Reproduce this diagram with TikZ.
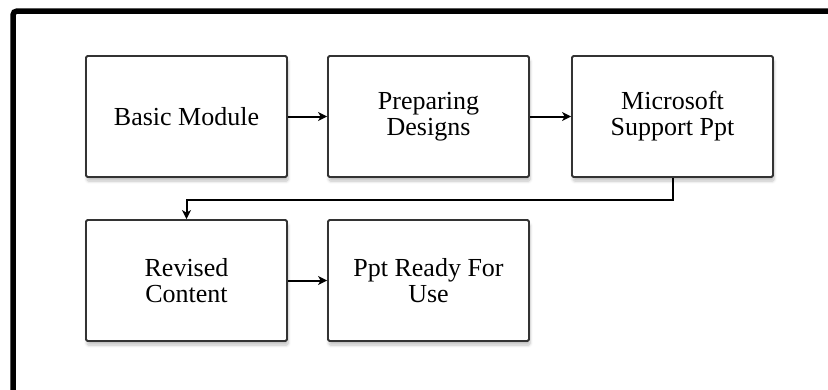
\documentclass[tikz,border=0pt]{standalone}
\usepackage{fontspec}
\setmainfont{Liberation Serif}
\usetikzlibrary{arrows.meta,shadows.blur}

\begin{document}
\begin{tikzpicture}[x=1pt,y=-1pt,
  stepbox/.style={draw=black!80,line width=1.8pt,rounded corners=1.5pt,fill=white,
    minimum width=201pt,minimum height=121pt,inner sep=0pt,align=center,
    font=\fontsize{26}{26}\selectfont,
    blur shadow={shadow xshift=1pt,shadow yshift=-4pt,shadow blur steps=6,shadow opacity=25,shadow blur radius=3pt}},
  flow/.style={line width=2pt,-{Stealth[length=9pt,width=9pt,inset=2.5pt]}}]
  \useasboundingbox (0,0) rectangle (828,389);
  % outer frame, only its top and left sides fall on the page
  \draw[line width=5.5pt,rounded corners=4pt] (13,400) |- (840,11);

  \node[stepbox] (bm) at (186.5,116.5) {Basic Module};
  \node[stepbox] (pd) at (428.5,116.5) {Preparing\\Designs};
  \node[stepbox] (ms) at (672.5,116.5) {Microsoft\\Support Ppt};
  \node[stepbox] (rc) at (186.5,280.5) {Revised\\Content};
  \node[stepbox] (pr) at (428.5,280.5) {Ppt Ready For\\Use};

  \draw[flow] (bm) -- (pd);
  \draw[flow] (pd) -- (ms);
  \draw[flow,rounded corners=0pt] (ms.south) -- ++(0,22) -| (rc.north);
  \draw[flow] (rc) -- (pr);
\end{tikzpicture}
\end{document}
